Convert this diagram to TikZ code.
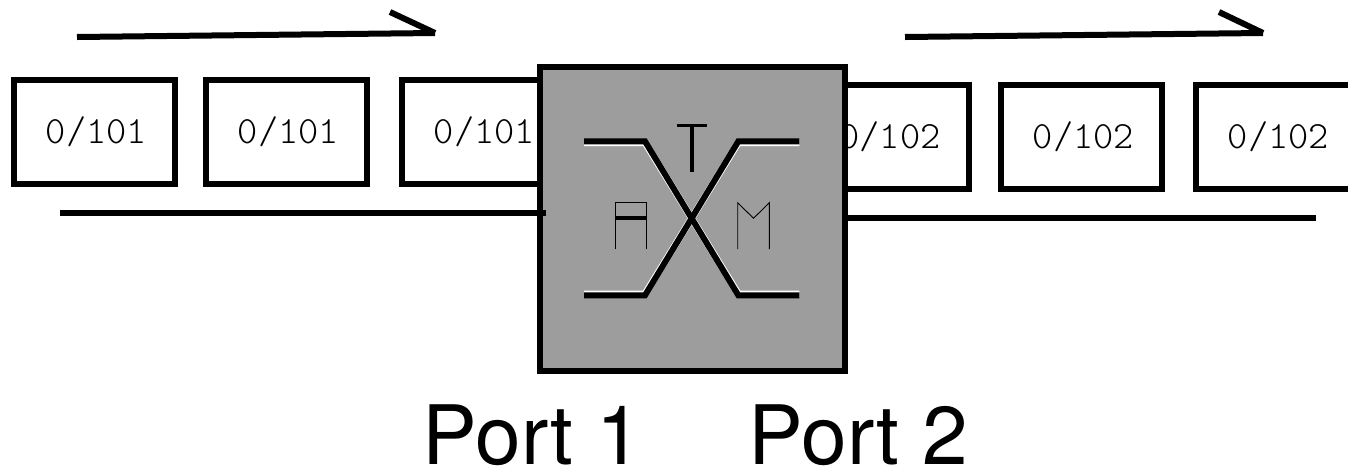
\documentclass[tikz,border=0pt]{standalone}
\usepackage{fontspec}
\setmainfont{TeX Gyre Heros}
\begin{document}
\begin{tikzpicture}[x=1pt,y=-1pt,line width=6pt,
    cell/.style={draw,rectangle,fill=white,minimum width=161pt,minimum height=104pt,inner sep=0pt,
      font=\fontspec{Latin Modern Mono Light}\fontsize{38.5}{38.5}\selectfont\kern4pt},
    switchbox/.style={draw,rectangle,fill=switchgray,minimum width=305pt,minimum height=304pt,inner sep=0pt},
    portlabel/.style={font=\fontsize{82}{82}\selectfont,inner sep=0pt},
    halo/.style={draw=white,line width=7pt,line join=miter},
    crossing/.style={line width=6pt,line join=miter}]
    \definecolor{switchgray}{HTML}{9D9D9D}
    \clip (0,0) rectangle (1348,467);
    \fill[white] (0,0) rectangle (1348,467);
    % cells on port 1
    \node[cell] (C1) at (94.5,131.5) {0/101};
    \node[cell] (C2) at (286.5,131.5) {0/101};
    \node[cell] (C3) at (482.5,131.5) {0/101};
    % cells on port 2
    \node[cell] (D1) at (888,137) {0/102};
    \node[cell] (D2) at (1081.5,137) {0/102};
    \node[cell] (D3) at (1276.5,137) {0/102};
    \node[switchbox] (S) at (692.5,218.5) {};
    % arrows above the cells
    \coordinate (A0) at (77,37);
    \coordinate (A1) at (435,33);
    \coordinate (A2) at (390,12);
    \coordinate (B0) at (905,37);
    \coordinate (B1) at (1263,33);
    \coordinate (B2) at (1219,12);
    \draw (A0) -- (A1);
    \draw (A2) -- (A1);
    \draw (B0) -- (B1);
    \draw (B2) -- (B1);
    % lines below the cells
    \coordinate (L0) at (60,213);
    \coordinate (L1) at (546,213);
    \coordinate (R0) at (S.east |- 0,218);
    \coordinate (R1) at (1316,218);
    \draw (L0) -- (L1);
    \draw (R0) -- (R1);
    % switch symbol
    \draw[halo] (584,142.5) -- (645,142.5) -- (738.3,294) -- (799.3,294);
    \draw[halo] (584,294) -- (645,294) -- (738.3,142.5) -- (799.3,142.5);
    \draw[crossing] (584,141.3) -- (645,141.3) -- (738.3,295.3) -- (799.3,295.3);
    \draw[crossing] (584,295.3) -- (645,295.3) -- (738.3,141.3) -- (799.3,141.3);
    \draw[line width=3.5pt] (676.7,125.7) -- (707.3,125.7);
    \draw[line width=3.5pt] (692,125.7) -- (692,172);
    \draw[line width=.9pt] (615,249) -- (615,202.7) -- (646,202.7) -- (646,249);
    \draw[line width=3.5pt] (615,218) -- (646,218);
    \draw[line width=.9pt] (737.7,249) -- (737.7,202.7) -- (753.5,218.3) -- (769.3,202.7) -- (769.3,249);
    % port names
    \node[portlabel] (P1) at (532.5,435) {Port 1};
    \node[portlabel] (P2) at (858.5,435) {Port 2};
\end{tikzpicture}
\end{document}
